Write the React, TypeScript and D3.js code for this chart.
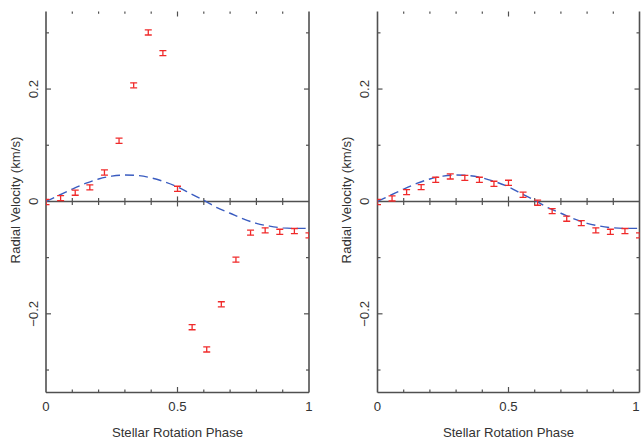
import React from "react";
import * as d3 from "d3";

// Phase samples (k/18)
const phases = [0, 1/18, 2/18, 3/18, 4/18, 5/18, 6/18, 7/18, 8/18, 9/18, 10/18, 11/18, 12/18, 13/18, 14/18, 15/18, 16/18, 17/18, 1];

const leftRV = [-0.001, 0.006, 0.0155, 0.025, 0.0515, 0.108, 0.2066, 0.3007, 0.264, 0.0225, -0.2238, -0.2634, -0.183, -0.1036, -0.0556, -0.0515, -0.054, -0.0527, -0.0604];
const rightRV = [-0.001, 0.0053, 0.0165, 0.0254, 0.0385, 0.0444, 0.042, 0.0385, 0.0314, 0.0332, 0.0119, -0.0023, -0.0172, -0.0308, -0.0385, -0.0515, -0.054, -0.0527, -0.0604];
const rvError = [0.0045, 0.0045, 0.0045, 0.0045, 0.0045, 0.0045, 0.0045, 0.0045, 0.0045, 0.0045, 0.0045, 0.0045, 0.0045, 0.0045, 0.0045, 0.0045, 0.0045, 0.0045, 0.0045];

// Model curve samples
const modelPhase = [0, 0.05, 0.1, 0.15, 0.2, 0.25, 0.3, 0.35, 0.4, 0.45, 0.5, 0.55, 0.6, 0.65, 0.7, 0.75, 0.8, 0.85, 0.9, 0.95, 1.0];
const modelRV = [0, 0.011, 0.022, 0.032, 0.040, 0.045, 0.047, 0.046, 0.042, 0.035, 0.026, 0.014, 0.002, -0.011, -0.021, -0.031, -0.039, -0.044, -0.047, -0.048, -0.048];

const xTickLabels = ["0", "0.5", "1"];
const xTickValues = [0, 0.5, 1];
const yTickLabels = ["0.2", "0", "\u22120.2"];
const yTickValues = [0.2, 0, -0.2];

const xTitle = "Stellar Rotation Phase";
const yTitle = "Radial Velocity (km/s)";

const W = 641;
const H = 439;
const TOP = 11.5;
const BOTTOM = 392.5;
const AXIS = "#505050";
const TEXT = "#333";
const FONT = "'Liberation Sans', Arial, sans-serif";
const FS = 13.2;

function Panel({ x0, x1, data, id }: { x0: number; x1: number; data: number[]; id: string }) {
  const x = d3.scaleLinear().domain([0, 1]).range([x0, x1]);
  const y = d3.scaleLinear().domain([-0.34, 0.338]).range([BOTTOM, TOP]);
  const xt = d3.range(0, 11).map((i) => i / 10);
  const yt = [-0.3, -0.2, -0.1, 0.1, 0.2, 0.3];
  const line = d3
    .line<number>()
    .x((_, i) => x(modelPhase[i]))
    .y((d) => y(d))
    .curve(d3.curveMonotoneX);
  const capW = 3.5;
  return (
    <g>
      <defs>
        <clipPath id={id}>
          <rect x={x0} y={TOP} width={x1 - x0} height={BOTTOM - TOP} />
        </clipPath>
      </defs>
      {/* frame */}
      <line x1={x0} x2={x0} y1={TOP} y2={BOTTOM} stroke={AXIS} strokeWidth={1.6} />
      <line x1={x1} x2={x1} y1={TOP} y2={BOTTOM} stroke={AXIS} strokeWidth={1.6} />
      <line x1={x0} x2={x1} y1={BOTTOM} y2={BOTTOM} stroke={AXIS} strokeWidth={1.6} />
      <line x1={x0} x2={x1} y1={y(0)} y2={y(0)} stroke={AXIS} strokeWidth={1.4} />
      {/* x ticks */}
      {xt.map((t, i) => {
        const major = Math.abs(t - 0.5) < 1e-9;
        const edge = t === 0 || t === 1;
        return (
          <g key={i}>
            {!edge && (
              <>
                <line x1={x(t)} x2={x(t)} y1={BOTTOM} y2={BOTTOM - (major ? 5.5 : 3)} stroke={AXIS} strokeWidth={1.2} />
                <line x1={x(t)} x2={x(t)} y1={TOP} y2={TOP + (major ? 5 : 2.2)} stroke={AXIS} strokeWidth={1.2} />
                <line x1={x(t)} x2={x(t)} y1={y(0) - (major ? 5 : 3.5)} y2={y(0) + (major ? 5 : 3.5)} stroke={AXIS} strokeWidth={1.2} />
              </>
            )}
          </g>
        );
      })}
      {/* y ticks */}
      {yt.map((t, i) => {
        const major = Math.abs(Math.abs(t) - 0.2) < 1e-9;
        const len = major ? 5 : 3;
        return (
          <g key={i}>
            <line x1={x0} x2={x0 + len} y1={y(t)} y2={y(t)} stroke={AXIS} strokeWidth={1.2} />
            <line x1={x1} x2={x1 - len} y1={y(t)} y2={y(t)} stroke={AXIS} strokeWidth={1.2} />
          </g>
        );
      })}
      {/* tick labels */}
      {xTickValues.map((v, i) => (
        <text
          key={i}
          x={Math.min(x(v), W - 5)}
          y={410.5}
          textAnchor="middle"
          fontSize={FS}
          fill={TEXT}
          fontFamily={FONT}
        >
          {xTickLabels[i]}
        </text>
      ))}
      {yTickValues.map((v, i) => (
        <text
          key={i}
          transform={`translate(${x0 - 8.5},${y(v)}) rotate(-90)`}
          textAnchor="middle"
          fontSize={FS}
          fill={TEXT}
          fontFamily={FONT}
        >
          {yTickLabels[i]}
        </text>
      ))}
      <text x={(x0 + x1) / 2} y={436.5} textAnchor="middle" fontSize={FS} fill={TEXT} fontFamily={FONT}>
        {xTitle}
      </text>
      <text
        transform={`translate(${x0 - 26.5},${200}) rotate(-90)`}
        textAnchor="middle"
        fontSize={FS}
        fill={TEXT}
        fontFamily={FONT}
      >
        {yTitle}
      </text>
      <g clipPath={`url(#${id})`}>
        <path d={line(modelRV) || ""} fill="none" stroke="#3a5cc0" strokeWidth={1.4} strokeDasharray="9,5" />
        {data.map((v, i) => {
          const px = x(phases[i]);
          const yl = y(v - rvError[i]);
          const yh = y(v + rvError[i]);
          return (
            <g key={i} stroke="#f02a2a" strokeWidth={1.3}>
              <line x1={px} x2={px} y1={yl} y2={yh} />
              <line x1={px - capW} x2={px + capW} y1={yl} y2={yl} />
              <line x1={px - capW} x2={px + capW} y1={yh} y2={yh} />
            </g>
          );
        })}
      </g>
    </g>
  );
}

export default function App() {
  return (
    <svg width={W} height={H} style={{ position: "absolute", left: 0, top: 0, background: "#fff" }}>
      <rect x={0} y={0} width={W} height={H} fill="#fff" />
      <Panel x0={46} x1={309} data={leftRV} id="clipL" />
      <Panel x0={377.5} x1={639.5} data={rightRV} id="clipR" />
    </svg>
  );
}
